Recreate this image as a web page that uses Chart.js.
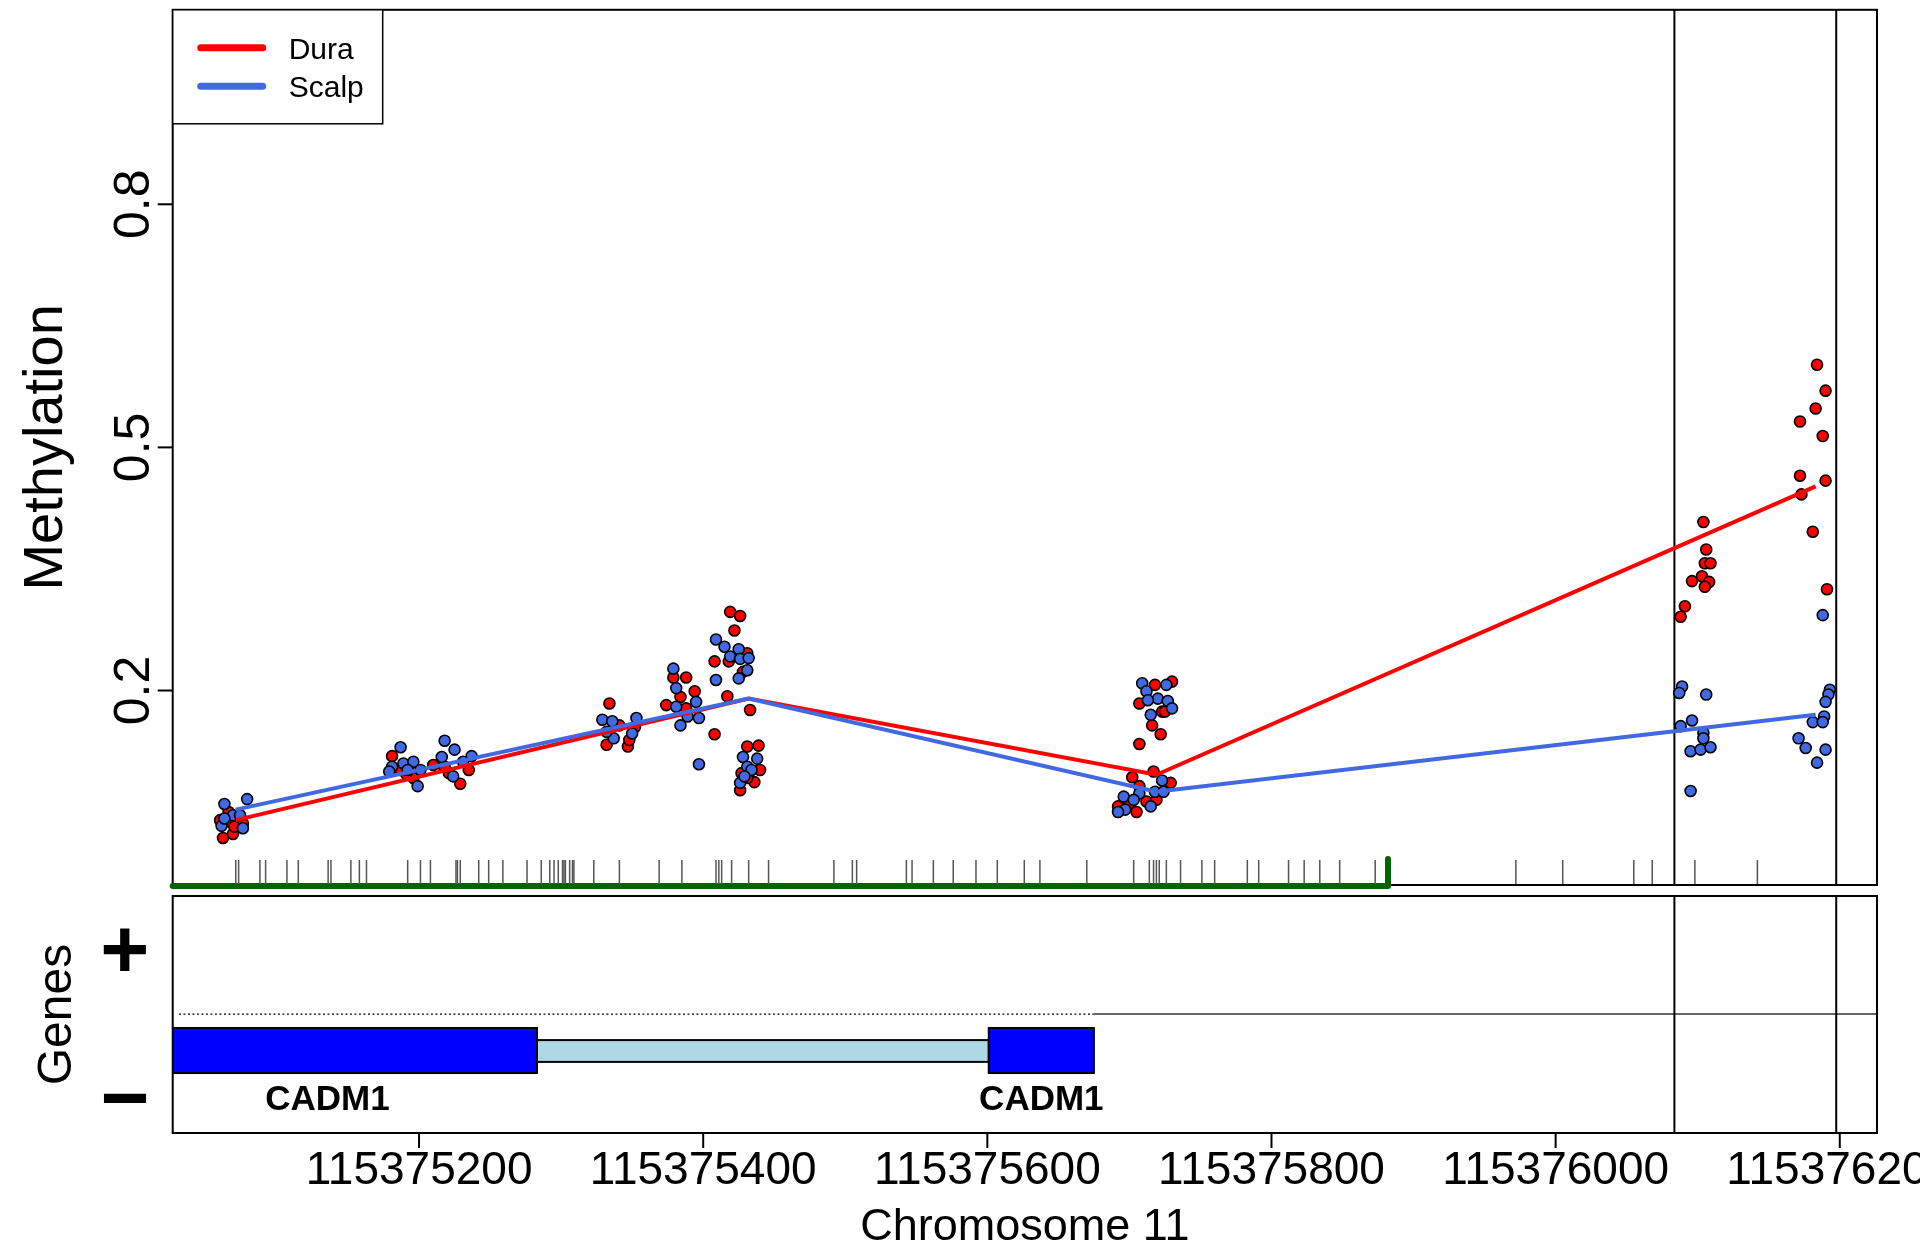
<!DOCTYPE html>
<html>
<head>
<meta charset="utf-8">
<script src="https://cdn.jsdelivr.net/npm/chart.js@4.4.0/dist/chart.umd.min.js"></script>
<style>
  html, body { margin:0; padding:0; background:#fff; }
  body { width:1920px; height:1245px; position:relative; overflow:hidden; }
  #wrapTop { position:absolute; left:0; top:0; z-index:2; }
  #wrapGenes { position:absolute; left:0; top:890px; z-index:1; }
</style>
</head>
<body>
<div id="wrapTop"><canvas id="methChart" width="1920" height="892"></canvas></div>
<div id="wrapGenes"><canvas id="geneChart" width="1920" height="355"></canvas></div>
<script>
// x range of the plot (chromosome 11 position)
const xMin = 115375026.6;
const xMax = 115376226.2;

// smoothed group means
const lineX = [115375071, 115375432, 115375719, 115376183];
const duraLine = [0.040, 0.190, 0.096, 0.452];
const scalpLine = [0.053, 0.190, 0.075, 0.170];

// individual CpG methylation, Dura samples
const duraX = [115375062,115375069,115375067,115375060,115375066,115375076,115375070,
  115375181,115375196,115375191,115375215,115375221,115375229,115375235,115375218,115375210,115375187,
  115375334,115375341,115375332,115375347,115375348,115375352,
  115375379,115375388,115375384,115375394,115375374,115375388,115375408,
  115375419,115375426,115375422,115375408,115375418,115375431,115375428,115375417,115375433,
  115375431,115375439,115375440,115375436,115375426,115375431,115375427,
  115375730,115375707,115375718,115375723,115375716,115375722,115375707,115375725,
  115375717,115375702,115375707,115375700,115375712,115375692,115375705,115375719,115375729,
  115376104,115376106,115376105,115376109,115376096,115376103,115376108,115376105,115376091,115376088,
  115376184,115376190,115376183,115376172,115376188,115376172,115376190,115376173,115376181,115376191];
const duraY = [0.018,0.023,0.038,0.040,0.050,0.036,0.032,
  0.119,0.092,0.097,0.110,0.098,0.085,0.102,0.106,0.108,0.102,
  0.184,0.157,0.133,0.131,0.139,0.155,
  0.216,0.216,0.192,0.199,0.182,0.178,0.146,
  0.297,0.292,0.274,0.236,0.236,0.246,0.223,0.193,0.176,
  0.131,0.132,0.102,0.087,0.077,0.092,0.098,
  0.211,0.184,0.207,0.174,0.157,0.146,0.134,0.174,
  0.100,0.093,0.082,0.061,0.063,0.057,0.050,0.065,0.086,
  0.408,0.374,0.357,0.357,0.335,0.341,0.334,0.328,0.304,0.291,
  0.602,0.570,0.548,0.532,0.514,0.465,0.459,0.442,0.396,0.325];

// individual CpG methylation, Scalp samples
const scalpX = [115375063,115375079,115375061,115375069,115375076,115375074,115375063,
  115375187,115375181,115375189,115375196,115375201,115375199,115375192,115375179,115375218,115375225,115375216,115375224,115375237,115375231,
  115375329,115375336,115375337,115375350,115375353,115375332,
  115375379,115375381,115375395,115375397,115375384,115375389,115375381,115375397,
  115375409,115375415,115375425,115375419,115375426,115375431,115375425,115375409,115375432,
  115375428,115375438,115375431,115375426,115375434,115375429,
  115375709,115375726,115375712,115375720,115375727,115375730,115375715,115375713,
  115375723,115375696,115375697,115375707,115375718,115375724,115375715,115375692,115375703,
  115376089,115376087,115376106,115376096,115376088,115376104,115376104,115376095,115376102,115376109,115376095,
  115376188,115376193,115376192,115376190,115376189,115376181,115376188,115376171,115376176,115376190,115376184];
const scalpY = [0.060,0.066,0.033,0.046,0.030,0.046,0.042,
  0.130,0.106,0.110,0.112,0.102,0.082,0.102,0.100,0.138,0.127,0.118,0.094,0.119,0.112,
  0.164,0.162,0.141,0.147,0.166,0.149,
  0.227,0.203,0.186,0.166,0.157,0.168,0.180,0.109,
  0.263,0.254,0.251,0.242,0.239,0.225,0.215,0.213,0.240,
  0.118,0.116,0.106,0.086,0.102,0.094,
  0.209,0.207,0.199,0.190,0.187,0.178,0.170,0.188,
  0.089,0.069,0.053,0.073,0.075,0.075,0.057,0.050,0.065,
  0.205,0.197,0.195,0.163,0.156,0.148,0.141,0.125,0.127,0.130,0.076,
  0.293,0.201,0.195,0.186,0.168,0.161,0.161,0.141,0.129,0.127,0.111];

// CpG positions (rug)
const cpgPos = [115375071,115375073,115375088,115375092,115375107,115375115,115375136,115375138,
  115375152,115375158,115375163,115375192,115375201,115375208,115375226,115375227,115375229,
  115375242,115375249,115375259,115375276,115375286,115375292,115375295,115375298,115375301,
  115375302,115375303,115375306,115375308,115375309,115375323,115375341,115375369,115375385,
  115375409,115375411,115375413,115375420,115375432,115375446,115375492,115375505,115375508,
  115375543,115375547,115375562,115375576,115375592,115375607,115375626,115375637,115375670,
  115375703,115375714,115375717,115375719,115375721,115375726,115375736,115375751,115375760,
  115375783,115375791,115375812,115375823,115375834,115375848,115375873,115375972,115376005,
  115376055,115376068,115376098,115376142];

// DMR extent (green bar) and highlighted region
const dmrStart = xMin;
const dmrEnd = 115375882;
const highlightX = [115376083.6, 115376197.5];

// axes
const yTicks = [0.2, 0.5, 0.8];
const yTickLabels = ['0.2', '0.5', '0.8'];
const xTicks = [115375200, 115375400, 115375600, 115375800, 115376000, 115376200];
const legendLabels = ['Dura', 'Scalp'];

// gene track
const exonStart = [115374988, 115375601];
const exonEnd = [115375283, 115375675];
const geneLabels = ['CADM1', 'CADM1'];
const strandStart = 115375031;

const duraCol = '#FF0000';
const scalpCol = '#4169E1';
const FONT = '"Liberation Sans", Arial, Helvetica, sans-serif';

function zip(xs, ys) { return xs.map((v, i) => ({x: v, y: ys[i]})); }

function vline(ctx, x, y1, y2) {
  ctx.beginPath(); ctx.moveTo(x, y1); ctx.lineTo(x, y2); ctx.stroke();
}

const topFrame = {
  id: 'topFrame',
  beforeDatasetsDraw(chart) {
    const {ctx, chartArea: a, scales: {x}} = chart;
    ctx.save();
    ctx.strokeStyle = '#000';
    ctx.lineWidth = 2;
    highlightX.forEach(v => vline(ctx, x.getPixelForValue(v), a.top, a.bottom));
    ctx.strokeRect(a.left, a.top, a.right - a.left, a.bottom - a.top);
    ctx.restore();
  },
  afterDraw(chart) {
    const {ctx, chartArea: a, scales: {y}} = chart;
    ctx.save();
    ctx.strokeStyle = '#000';
    ctx.fillStyle = '#000';
    ctx.lineWidth = 2;
    // y ticks + rotated labels
    ctx.font = '50px ' + FONT;
    yTicks.forEach((v, i) => {
      const py = y.getPixelForValue(v);
      ctx.beginPath(); ctx.moveTo(a.left - 15, py); ctx.lineTo(a.left, py); ctx.stroke();
      ctx.save();
      ctx.translate(a.left - 24, py);
      ctx.rotate(-Math.PI / 2);
      ctx.textAlign = 'center';
      ctx.textBaseline = 'alphabetic';
      ctx.fillText(yTickLabels[i], 0, 0);
      ctx.restore();
    });
    // y title
    ctx.save();
    ctx.font = '56px ' + FONT;
    ctx.translate(62, (a.top + a.bottom) / 2);
    ctx.rotate(-Math.PI / 2);
    ctx.textAlign = 'center';
    ctx.fillText('Methylation', 0, 0);
    ctx.restore();
    // legend
    const lx = a.left, ly = a.top, lw = 210, lh = 114;
    ctx.fillStyle = '#fff';
    ctx.fillRect(lx, ly, lw, lh);
    ctx.lineWidth = 1.5;
    ctx.strokeRect(lx, ly, lw, lh);
    const cols = [duraCol, scalpCol];
    ctx.font = '30px ' + FONT;
    legendLabels.forEach((t, i) => {
      const yy = ly + 38 + i * 38.5;
      ctx.strokeStyle = cols[i];
      ctx.lineWidth = 7;
      ctx.lineCap = 'round';
      ctx.beginPath(); ctx.moveTo(lx + 28, yy); ctx.lineTo(lx + 90, yy); ctx.stroke();
      ctx.fillStyle = '#000';
      ctx.textAlign = 'left';
      ctx.fillText(t, lx + 116, yy + 11);
    });
    ctx.restore();
  }
};

new Chart(document.getElementById('methChart'), {
  type: 'scatter',
  data: {
    datasets: [
      {label: 'Scalp mean', data: zip(lineX, scalpLine), showLine: true, borderColor: scalpCol,
        borderWidth: 4, pointRadius: 0, tension: 0, order: 0},
      {label: 'Dura mean', data: zip(lineX, duraLine), showLine: true, borderColor: duraCol,
        borderWidth: 4, pointRadius: 0, tension: 0, order: 1},
      {label: 'Scalp', data: zip(scalpX, scalpY), backgroundColor: scalpCol, borderColor: '#000',
        borderWidth: 1.6, pointRadius: 5.5, order: 2},
      {label: 'Dura', data: zip(duraX, duraY), backgroundColor: duraCol, borderColor: '#000',
        borderWidth: 1.6, pointRadius: 5.5, order: 3},
      {label: 'CpG', data: cpgPos.map(p => ({x: p, y: -0.024})), pointStyle: 'line', rotation: 90,
        pointRadius: 12, borderColor: '#555', borderWidth: 1.5, order: 4},
      {label: 'DMR', data: [{x: dmrStart, y: -0.0412}, {x: dmrEnd, y: -0.0412}, {x: dmrEnd, y: -0.008}],
        showLine: true, borderColor: '#006400', borderWidth: 6, pointRadius: 0, tension: 0,
        borderCapStyle: 'round', borderJoinStyle: 'round', clip: false, order: 5}
    ]
  },
  options: {
    responsive: false,
    animation: false,
    events: [],
    layout: {autoPadding: false, padding: {left: 172.7, right: 43, top: 9.8, bottom: 7}},
    scales: {
      x: {type: 'linear', min: xMin, max: xMax, display: false},
      y: {type: 'linear', min: -0.04, max: 1.04, display: false}
    },
    plugins: {legend: {display: false}, tooltip: {enabled: false}}
  },
  plugins: [topFrame]
});

const geneFrame = {
  id: 'geneFrame',
  beforeDatasetsDraw(chart) {
    const {ctx, chartArea: a, scales: {x, y}} = chart;
    ctx.save();
    ctx.beginPath();
    ctx.rect(a.left, a.top, a.right - a.left, a.bottom - a.top);
    ctx.clip();
    ctx.strokeStyle = '#000';
    ctx.lineWidth = 2;
    // intron / UTR box
    const iy1 = y.getPixelForValue(0.392), iy2 = y.getPixelForValue(0.300);
    const ix1 = x.getPixelForValue(exonEnd[0]), ix2 = x.getPixelForValue(exonStart[1]);
    ctx.fillStyle = '#ADD8E6';
    ctx.fillRect(ix1, iy1, ix2 - ix1, iy2 - iy1);
    ctx.strokeRect(ix1, iy1, ix2 - ix1, iy2 - iy1);
    // exons
    const ey1 = y.getPixelForValue(0.443), ey2 = y.getPixelForValue(0.253);
    ctx.fillStyle = '#0000FF';
    exonStart.forEach((s, i) => {
      const px1 = x.getPixelForValue(s), px2 = x.getPixelForValue(exonEnd[i]);
      ctx.fillRect(px1, ey1, px2 - px1, ey2 - ey1);
      ctx.strokeRect(px1, ey1, px2 - px1, ey2 - ey1);
    });
    ctx.restore();
  },
  afterDraw(chart) {
    const {ctx, chartArea: a, scales: {x, y}} = chart;
    ctx.save();
    ctx.strokeStyle = '#000';
    ctx.fillStyle = '#000';
    ctx.lineWidth = 2;
    highlightX.forEach(v => vline(ctx, x.getPixelForValue(v), a.top, a.bottom));
    ctx.strokeRect(a.left, a.top, a.right - a.left, a.bottom - a.top);
    // gene names
    ctx.font = 'bold 35px ' + FONT;
    ctx.textAlign = 'center';
    geneLabels.forEach((g, i) => {
      const mid = x.getPixelForValue((exonStart[i] + exonEnd[i]) / 2);
      ctx.fillText(g, mid, y.getPixelForValue(0.097));
    });
    // strand symbols
    ctx.font = 'bold 84px ' + FONT;
    ctx.fillText('+', a.left - 48, y.getPixelForValue(0.776) + 29);
    ctx.fillText('\u2212', a.left - 48, y.getPixelForValue(0.150) + 29);
    // track title
    ctx.save();
    ctx.font = '48px ' + FONT;
    ctx.translate(71, (a.top + a.bottom) / 2);
    ctx.rotate(-Math.PI / 2);
    ctx.textAlign = 'center';
    ctx.fillText('Genes', 0, 0);
    ctx.restore();
    // x axis
    ctx.font = '46px ' + FONT;
    ctx.textAlign = 'center';
    xTicks.forEach(v => {
      const px = x.getPixelForValue(v);
      vline(ctx, px, a.bottom, a.bottom + 15);
      ctx.fillText(String(v), px, a.bottom + 51);
    });
    ctx.font = '45px ' + FONT;
    ctx.fillText('Chromosome 11', (a.left + a.right) / 2, a.bottom + 107);
    ctx.restore();
  }
};

new Chart(document.getElementById('geneChart'), {
  type: 'scatter',
  data: {
    datasets: [
      {label: 'strand dotted', data: [{x: strandStart, y: 0.502}, {x: exonEnd[1], y: 0.502}], showLine: true,
        borderColor: '#000', borderWidth: 1.3, borderDash: [2, 2.5], pointRadius: 0},
      {label: 'strand', data: [{x: exonEnd[1], y: 0.502}, {x: xMax, y: 0.502}], showLine: true,
        borderColor: '#333', borderWidth: 1.6, pointRadius: 0}
    ]
  },
  options: {
    responsive: false,
    animation: false,
    events: [],
    layout: {autoPadding: false, padding: {left: 172.7, right: 43, top: 6, bottom: 112}},
    scales: {
      x: {type: 'linear', min: xMin, max: xMax, display: false},
      y: {type: 'linear', min: 0, max: 1, display: false}
    },
    plugins: {legend: {display: false}, tooltip: {enabled: false}}
  },
  plugins: [geneFrame]
});
</script>
</body>
</html>
